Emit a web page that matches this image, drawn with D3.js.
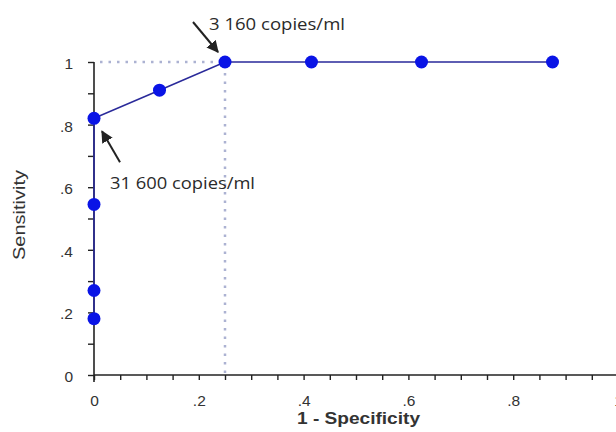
<!DOCTYPE html>
<html>
<head>
<meta charset="utf-8">
<script src="https://cdn.jsdelivr.net/npm/d3@7"></script>
<style>
  body { margin: 0; background: #fff; }
  svg { display: block; }
</style>
</head>
<body>
<script>
// ROC points (1 - specificity, sensitivity)
const fpr = [0, 0, 0, 0, 0.125, 0.25, 0.415, 0.625, 0.875];
const tpr = [0.18, 0.27, 0.545, 0.82, 0.91, 1, 1, 1, 1];
const xTickLabels = ["0", ".2", ".4", ".6", ".8", "1"];
const yTickLabels = ["0", ".2", ".4", ".6", ".8", "1"];
const cutoffs = [
  { label: "3 160 copies/ml", x: 0.25, y: 1 },
  { label: "31 600 copies/ml", x: 0, y: 0.82 }
];

const width = 616, height = 432;
const svg = d3.select("body").append("svg")
  .attr("width", width)
  .attr("height", height);

const x = d3.scaleLinear().domain([0, 1]).range([94, 618]);
const y = d3.scaleLinear().domain([0, 1]).range([375, 62]);

// arrow head
svg.append("defs").append("marker")
  .attr("id", "arrow")
  .attr("viewBox", "0 0 10 10")
  .attr("refX", 9).attr("refY", 5)
  .attr("markerWidth", 6).attr("markerHeight", 6)
  .attr("orient", "auto")
  .append("path")
  .attr("d", "M0,0 L10,5 L0,10 Z")
  .attr("fill", "#222");

// dotted reference lines at the chosen cut-off
const ref = cutoffs[0];
svg.append("path")
  .attr("d", `M${x(0) + 6},${y(ref.y)} H${x(ref.x)} V${y(0)}`)
  .attr("fill", "none")
  .attr("stroke", "#acb2d2")
  .attr("stroke-width", 2.5)
  .attr("stroke-dasharray", "2.5 6");

// axes
const isMajor = d => Number.isInteger(Math.round(d / 0.2 * 1000) / 1000);
const labelOf = (labels) => (d) => isMajor(d) ? labels[Math.round(d / 0.2)] : "";

const gx = svg.append("g")
  .attr("transform", `translate(0,${y(0)})`)
  .call(d3.axisBottom(x)
    .tickValues(d3.range(0, 1.001, 0.05))
    .tickSize(5)
    .tickFormat(labelOf(xTickLabels)));
gx.select(".domain").attr("d", `M${x(0)},0H${width}`);
gx.selectAll("text").attr("y", 31).attr("dy", 0);

const gy = svg.append("g")
  .attr("transform", `translate(${x(0)},0)`)
  .call(d3.axisLeft(y)
    .tickValues(d3.range(0, 1.001, 0.1))
    .tickSize(6)
    .tickFormat(labelOf(yTickLabels)));
gy.select(".domain").attr("d", `M0,${y(1)}V${y(0) + 7}`);
gy.selectAll("text").attr("x", -21).attr("dy", "0.42em");

[gx, gy].forEach(g => {
  g.attr("font-size", null);
  g.selectAll("text")
    .attr("font-family", "Liberation Sans, Arial, sans-serif")
    .style("font-size", "15.5px")
    .attr("fill", "#333");
  g.selectAll("line").attr("stroke", "#222").attr("stroke-width", 1.4);
  g.select(".domain").attr("stroke", "#222").attr("stroke-width", 1.6);
});

// ROC curve
const pts = fpr.map((d, i) => ({ fx: d, tp: tpr[i] }));
const line = d3.line().x(d => x(d.fx)).y(d => y(d.tp));
svg.append("path")
  .datum(pts)
  .attr("d", line)
  .attr("fill", "none")
  .attr("stroke", "#2a2a9a")
  .attr("stroke-width", 1.6);

svg.append("g")
  .selectAll("circle")
  .data(pts)
  .join("circle")
  .attr("cx", d => x(d.fx))
  .attr("cy", d => y(d.tp))
  .attr("r", 6.5)
  .attr("fill", "#0a14e6");

// annotations
const annot = svg.append("g")
  .attr("font-family", "Open Sans, Noto Sans, sans-serif")
  .attr("font-size", 16.5)
  .attr("fill", "#2a2a2a");

// 3 160 copies/ml
annot.append("line")
  .attr("x1", x(ref.x) - 32).attr("y1", y(ref.y) - 40)
  .attr("x2", x(ref.x) - 7).attr("y2", y(ref.y) - 10)
  .attr("stroke", "#222").attr("stroke-width", 2)
  .attr("marker-end", "url(#arrow)");
annot.append("text")
  .attr("x", x(ref.x) - 16).attr("y", y(ref.y) - 32)
  .attr("textLength", 136)
  .attr("lengthAdjust", "spacingAndGlyphs")
  .text(cutoffs[0].label);

// 31 600 copies/ml
const c2 = cutoffs[1];
annot.append("line")
  .attr("x1", x(c2.x) + 26).attr("y1", y(c2.y) + 44)
  .attr("x2", x(c2.x) + 8).attr("y2", y(c2.y) + 13)
  .attr("stroke", "#222").attr("stroke-width", 2)
  .attr("marker-end", "url(#arrow)");
annot.append("text")
  .attr("x", x(c2.x) + 16).attr("y", y(c2.y) + 71)
  .attr("textLength", 145)
  .attr("lengthAdjust", "spacingAndGlyphs")
  .text(c2.label);

// axis titles
svg.append("text")
  .attr("x", 297).attr("y", 424)
  .attr("font-family", "Liberation Sans, Arial, sans-serif")
  .attr("font-size", 16)
  .attr("font-weight", "bold")
  .attr("fill", "#333")
  .attr("textLength", 123)
  .attr("lengthAdjust", "spacingAndGlyphs")
  .text("1 - Specificity");

svg.append("text")
  .attr("transform", "translate(25,260) rotate(-90)")
  .attr("font-family", "Liberation Sans, Arial, sans-serif")
  .attr("font-size", 16)
  .attr("fill", "#333")
  .attr("textLength", 90)
  .attr("lengthAdjust", "spacingAndGlyphs")
  .text("Sensitivity");
</script>
</body>
</html>
